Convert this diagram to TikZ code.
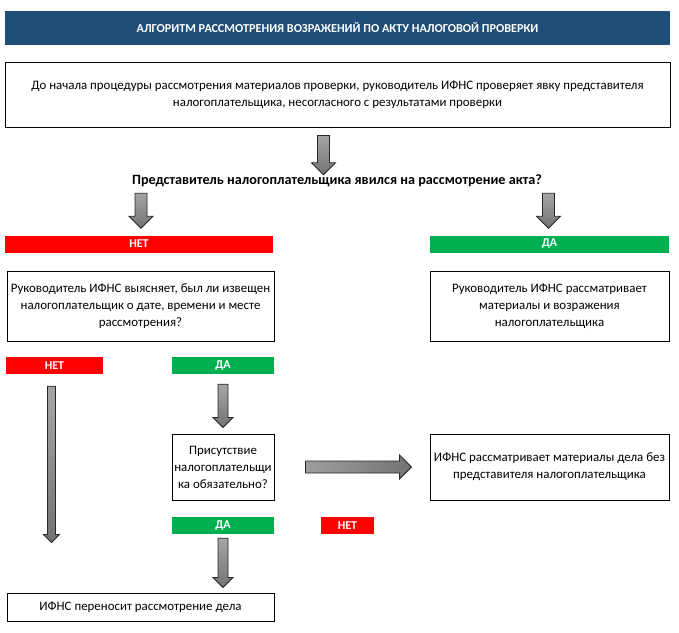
\documentclass[tikz,border=0pt]{standalone}
\usepackage{fontspec}
\setmainfont{Carlito}
\usetikzlibrary{calc}

\definecolor{headblue}{RGB}{31,78,121}
\definecolor{nored}{RGB}{255,0,0}
\definecolor{yesgreen}{RGB}{0,176,80}

\tikzset{
  box/.style={draw=black,line width=1pt,align=center,inner sep=2pt,
    font=\fontsize{12.9}{17}\selectfont},
  bar/.style={minimum height=17pt,inner sep=0pt,text=white,
    font=\bfseries\fontsize{12}{12}\selectfont},
  nobar/.style={bar,fill=nored},
  yesbar/.style={bar,fill=yesgreen},
  blockshade/.style={draw=black!85,line width=0.8pt},
}

% block arrows: from, to, half width of the shaft
\newcommand{\downblock}[3]{%
  \path[blockshade,top color=black!35,bottom color=black!55] let \p1=(#1), \p2=(#2) in
    (\x1-#3pt,\y1) -- (\x1+#3pt,\y1) -- (\x1+#3pt,\y2+2*#3pt) -- (\x1+2*#3pt,\y2+2*#3pt)
    -- (\x1,\y2) -- (\x1-2*#3pt,\y2+2*#3pt) -- (\x1-#3pt,\y2+2*#3pt) -- cycle;}
\newcommand{\rightblock}[3]{%
  \path[blockshade,left color=black!38,right color=black!55] let \p1=(#1), \p2=(#2) in
    (\x1,\y1+#3pt) -- (\x1,\y1-#3pt) -- (\x2-2*#3pt,\y1-#3pt) -- (\x2-2*#3pt,\y1-2*#3pt)
    -- (\x2,\y1) -- (\x2-2*#3pt,\y1+2*#3pt) -- (\x2-2*#3pt,\y1+#3pt) -- cycle;}

\begin{document}
\begin{tikzpicture}[x=1pt,y=-1pt]
  \useasboundingbox (0,0) rectangle (679,632);

  \node[fill=headblue,minimum width=665pt,minimum height=34pt,inner sep=0pt,text=white,
        font=\bfseries\fontsize{12.2}{12.2}\selectfont] (title) at (337.5,28)
        {АЛГОРИТМ РАССМОТРЕНИЯ ВОЗРАЖЕНИЙ ПО АКТУ НАЛОГОВОЙ ПРОВЕРКИ};
  \node[box,minimum width=665pt,minimum height=65pt] (intro) at (337.5,94.5)
        {До начала процедуры рассмотрения материалов проверки, руководитель ИФНС проверяет явку представителя\\
         налогоплательщика, несогласного с результатами проверки};
  \node[inner sep=0pt,font=\bfseries\fontsize{14.2}{14.2}\selectfont] (question) at (337,181)
        {Представитель налогоплательщика явился на рассмотрение акта?};

  \node[nobar,minimum width=268pt] (no1) at (139,244) {НЕТ};
  \node[yesbar,minimum width=239pt] (yes1) at (549.5,244) {ДА};

  \node[box,minimum width=267pt,minimum height=70pt] (ask) at (140.5,306)
        {Руководитель ИФНС выясняет, был ли извещен\\
         налогоплательщик о дате, времени и месте\\
         рассмотрения?};
  \node[box,minimum width=239pt,minimum height=70pt] (review) at (549.5,306)
        {Руководитель ИФНС рассматривает\\
         материалы и возражения\\
         налогоплательщика};

  \node[nobar,minimum width=97pt] (no2) at (54.5,365.5) {НЕТ};
  \node[yesbar,minimum width=102pt] (yes2) at (223,365.5) {ДА};

  \node[box,minimum width=102pt,minimum height=66pt] (must) at (223,467)
        {Присутствие\\ налогоплательщи\\ ка обязательно?};
  \node[box,minimum width=239pt,minimum height=66pt] (without) at (549.5,467)
        {ИФНС рассматривает материалы дела без\\
         представителя налогоплательщика};

  \node[yesbar,minimum width=102pt] (yes3) at (223,525.5) {ДА};
  \node[nobar,minimum width=53pt] (no3) at (347.5,525.5) {НЕТ};

  \node[box,minimum width=267pt,minimum height=28pt] (final) at (140.5,607)
        {ИФНС переносит рассмотрение дела};

  % arrows
  \downblock{$(intro.south)+(-14,8)$}{$(question.north)+(-14,0)$}{6}
  \downblock{$(question.south -| no1.north)+(2,6)$}{$(no1.north)+(2,-7)$}{6}
  \downblock{$(question.south -| yes1.north)+(-1,6)$}{$(yes1.north)+(-1,-7)$}{6}
  \downblock{$(no2.south)+(-3,12)$}{$(final.north -| no2.south)+(-3,-50)$}{4}
  \downblock{$(yes2.south)+(0,10)$}{$(must.north)+(0,-6)$}{5}
  \rightblock{$(must.east)+(31,0)$}{$(without.west)+(-18,0)$}{6}
  \downblock{$(yes3.south)+(0,4)$}{$(final.north -| yes3.south)+(0,-5)$}{5}
\end{tikzpicture}
\end{document}
